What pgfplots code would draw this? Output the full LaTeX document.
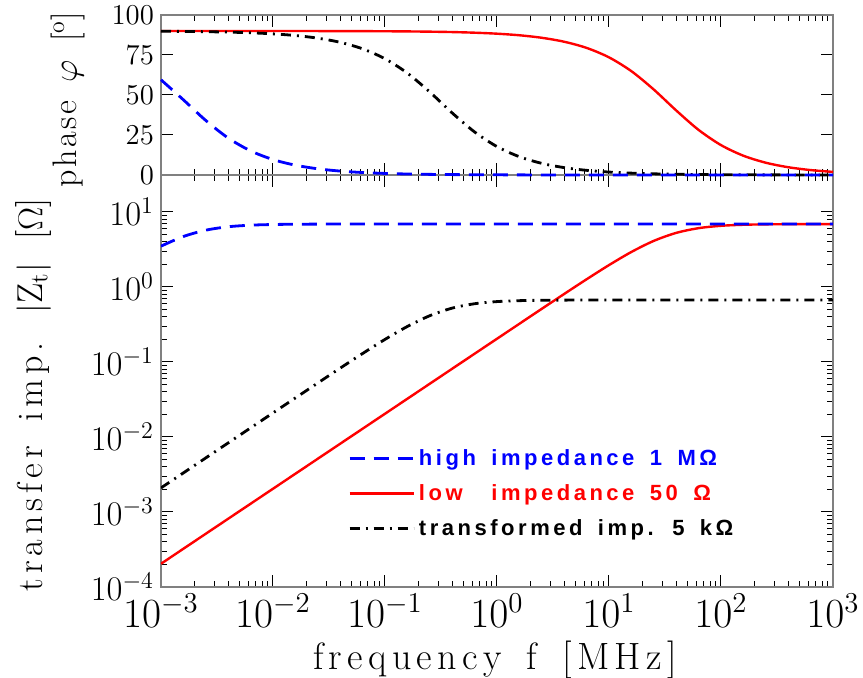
\documentclass[border=0pt]{standalone}
\usepackage{fontspec}
\usepackage{pgfplots}
\pgfplotsset{compat=1.18}
\usepackage{pgfplotstable}
\newfontfamily\labfont{Latin Modern Roman}[LetterSpace=14, WordSpace=1.5]
\newfontfamily\phfont{Latin Modern Roman}[LetterSpace=8, WordSpace=1.4]
\newfontfamily\xlabfont{Latin Modern Roman}[LetterSpace=14, WordSpace=1.5]
\newfontfamily\legfont{Liberation Sans}[LetterSpace=16, WordSpace=1.6]
\definecolor{zblue}{RGB}{0,0,255}
\definecolor{zred}{RGB}{255,0,0}
\definecolor{framegray}{gray}{0.5}

% f [MHz], phase [deg] and |Z| [Ohm] for the three set-ups
\pgfplotstableread{
f         phb     zb       phk     zk        phr     zr
1e-3      59.5    3.50     89.82   2.094e-3  90.0    2.041e-4
1.585e-3  46.98   4.708    89.72   3.320e-3  90.0    3.235e-4
2.512e-3  34.06   5.716    89.55   5.261e-3  90.0    5.127e-4
3.981e-3  23.1    6.347    89.29   8.338e-3  89.99   8.125e-4
6.310e-3  15.07   6.663    88.87   1.3214e-2 89.99   1.2878e-3
1e-2      9.64    6.803    88.21   2.0935e-2 89.98   2.0410e-3
1.585e-2  6.12    6.861    87.16   3.3154e-2 89.97   3.2348e-3
2.512e-2  3.87    6.884    85.51   5.245e-2  89.96   5.1268e-3
3.981e-2  2.44    6.894    82.91   8.274e-2  89.93   8.1255e-3
6.310e-2  1.54    6.897    78.84   0.12965   89.89   1.2878e-2
1e-1      0.973   6.899    72.64   0.19991   89.83   2.0410e-2
0.1585    0.614   6.9      63.65   0.29745   89.73   3.2348e-2
0.2512    0.387   6.9      51.86   0.41379   89.57   5.1268e-2
0.3981    0.244   6.9      38.78   0.52229   89.33   8.1253e-2
0.6310    0.154   6.9      26.89   0.59759   88.93   0.12877
1         0.097   6.9      17.74   0.63814   88.31   0.20401
1.585     0.061   6.9      11.41   0.65676   87.32   0.32313
2.512     0.039   6.9      7.26    0.66463   85.75   0.51127
3.981     0.024   6.9      4.594   0.66785   83.28   0.80698
6.310     0.015   6.9      2.902   0.66914   79.43   1.26594
10        0.010   6.9      1.832   0.66966   73.52   1.9572
15.85     0.006   6.9      1.156   0.66986   64.88   2.9289
25.12     0.004   6.9      0.730   0.66995   53.39   4.1152
39.81     0.002   6.9      0.460   0.66998   40.34   5.2595
63.10     0.002   6.9      0.290   0.67      28.18   6.0820
100       0.001   6.9      0.183   0.67      18.68   6.5366
158.5     0.001   6.9      0.116   0.67      12.04   6.7482
251.2     0       6.9      0.073   0.67      7.665   6.8383
398.1     0       6.9      0.046   0.67      4.854   6.8753
631.0     0       6.9      0.029   0.67      3.067   6.8901
1000      0       6.9      0.018   0.67      1.936   6.8961
}\imp

\begin{document}
\begin{tikzpicture}
\useasboundingbox (0,0) rectangle (431.5pt,339pt);
\pgfplotsset{
  every axis/.append style={
    scale only axis, width=336pt,
    xmode=log, xmin=1e-3, xmax=1e3,
    xtick={1e-3,1e-2,1e-1,1,1e1,1e2,1e3},
    xtick pos=both, ytick pos=both,
    axis line style={framegray, line width=0.7pt},
    major tick length=6pt, minor tick length=3pt,
    every tick/.style={black, line width=0.5pt},
  },
  blu/.style={zblue, line width=1.4pt, dash pattern=on 7.5pt off 4.5pt},
  rd/.style={zred, line width=1.2pt},
  blk/.style={black, line width=1.4pt, dash pattern=on 5pt off 3pt on 1pt off 3pt},
}
% bottom: transfer impedance
\begin{axis}[
  at={(80.5pt,45.5pt)}, anchor=south west, height=206pt,
  ymode=log, ymin=1e-4, ymax=31.1,
  ytick={1e-4,1e-3,1e-2,1e-1,1,1e1},
  xticklabel style={font=\fontsize{21}{21}\selectfont},
  yticklabel style={font=\fontsize{17}{17}\selectfont},
  xlabel={\xlabfont frequency f [MHz]},
  xlabel style={font=\fontsize{19}{19}\selectfont, at={(axis description cs:0.497,-0.177)}, anchor=center},
  ylabel={\labfont transfer imp. $|$Z$_{\mathrm{t}}|$ [$\Omega$]},
  ylabel style={font=\fontsize{18}{18}\selectfont, at={(axis description cs:-0.19,0.466)}, anchor=center},
  legend style={draw=none, fill=none, at={(axis description cs:0.275,0.35)}, anchor=north west,
    font=\legfont\bfseries\fontsize{11}{13}\selectfont, row sep=4pt, inner sep=1pt,
    cells={anchor=west}},
  legend image code/.code={\draw[#1] (0pt,0pt) -- (32pt,0pt);},
]
\addlegendimage{blu}
\addlegendentry{\textcolor{zblue}{high impedance 1 MΩ}}
\addlegendimage{rd}
\addlegendentry{\textcolor{zred}{\rlap{low}\phantom{high} impedance 50 Ω}}
\addlegendimage{blk}
\addlegendentry{transformed imp. 5 kΩ}
\addplot[rd, smooth, forget plot] table[x=f, y=zr] {\imp};
\addplot[blk, smooth, forget plot] table[x=f, y=zk] {\imp};
\addplot[blu, smooth, forget plot] table[x=f, y=zb] {\imp};
\draw[black, line width=0.7pt] (rel axis cs:0,1) -- (rel axis cs:1,1);
\end{axis}
% top: phase
\begin{axis}[
  at={(80.5pt,251.5pt)}, anchor=south west, height=80pt,
  ymin=0, ymax=100, ytick={0,25,50,75,100},
  xticklabels={}, clip=false,
  yticklabel style={font=\fontsize{15}{15}\selectfont},
  ylabel={\phfont phase $\varphi$ [$^{\mathrm{o}}$]},
  ylabel style={font=\fontsize{17}{17}\selectfont, at={(axis description cs:-0.138,0.47)}, anchor=center},
]
\addplot[rd, smooth] table[x=f, y=phr] {\imp};
\addplot[blk, smooth] table[x=f, y=phk] {\imp};
\addplot[blu, smooth] table[x=f, y=phb] {\imp};
\end{axis}
\end{tikzpicture}
\end{document}
